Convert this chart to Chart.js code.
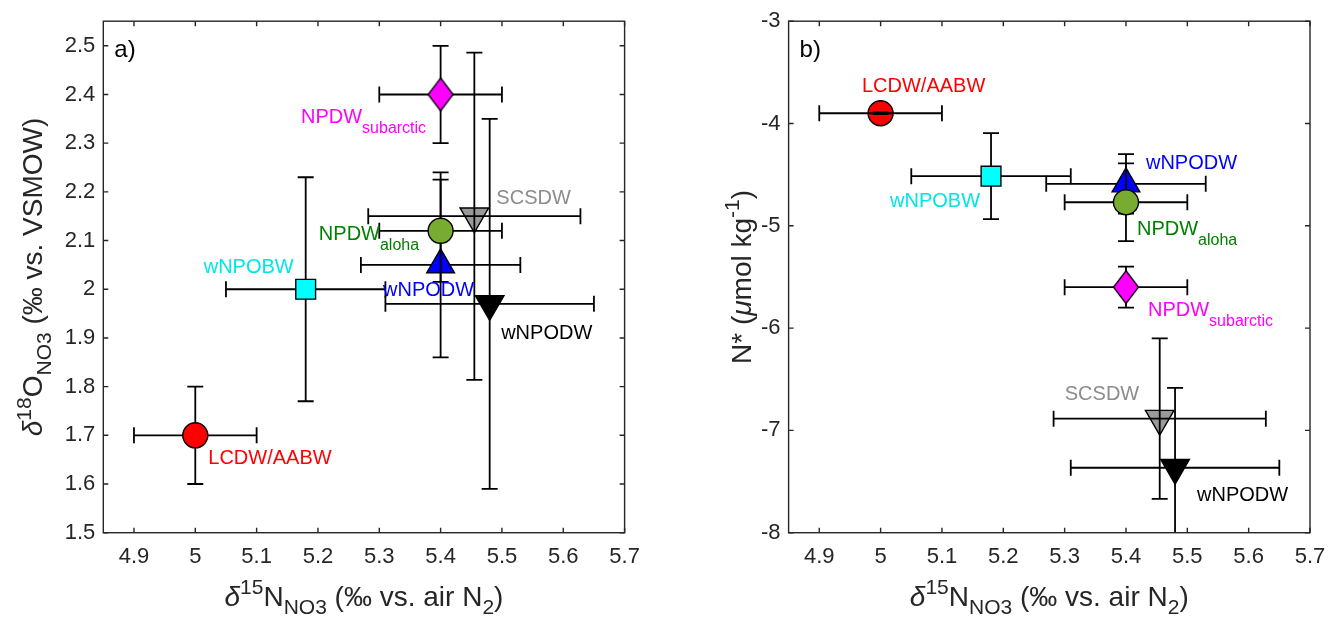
<!DOCTYPE html>
<html>
<head>
<meta charset="utf-8">
<script src="https://cdn.jsdelivr.net/npm/chart.js@4.4.0/dist/chart.umd.min.js"></script>
<style>
  html, body { margin: 0; padding: 0; background: #fff; }
  #wrap { position: relative; width: 1338px; height: 620px; }
  .panel { position: absolute; top: 0; width: 669px; height: 620px; }
</style>
</head>
<body>
<div id="wrap">
  <div class="panel" style="left:0"><canvas id="panelA" width="669" height="620"></canvas></div>
  <div class="panel" style="left:669px"><canvas id="panelB" width="669" height="620"></canvas></div>
</div>
<script>
// water masses, same order in every array below
const massNames = ['LCDW/AABW', 'wNPOBW', 'NPDW', 'NPDW', 'wNPODW', 'SCSDW', 'wNPODW'];
const massSubs  = ['', '', 'subarctic', 'aloha', '', '', ''];

// d15N of nitrate (x in both panels) and its error
const d15N    = [5.0, 5.18, 5.4, 5.4, 5.4, 5.455, 5.48];
const d15NErr = [0.1, 0.13, 0.1, 0.1, 0.13, 0.173, 0.17];

// panel a: d18O of nitrate
const d18O    = [1.7, 2.0, 2.4, 2.12, 2.05, 2.15, 1.97];
const d18OErr = [0.1, 0.23, 0.1, 0.105, 0.19, 0.336, 0.38];

// panel b: N*
const nStar    = [-3.9, -4.515, -5.6, -4.77, -4.59, -6.885, -7.365];
const nStarErr = [0.008, 0.42, 0.2, 0.38, 0.29, 0.785, 0.78];

// tick labels
const xTicks  = [4.9, 5, 5.1, 5.2, 5.3, 5.4, 5.5, 5.6, 5.7];
const yTicksA = [1.5, 1.6, 1.7, 1.8, 1.9, 2, 2.1, 2.2, 2.3, 2.4, 2.5];
const yTicksB = [-8, -7, -6, -5, -4, -3];

// ---- estilos ----
const FONT = '"Liberation Sans", Arial, sans-serif';
const AXIS = '#262626';
const fills = ['#ff0000', '#00ffff', '#ff00ff', '#77ac30', '#0000ff', '#999999', '#000000'];
const textColors = ['#ff0000', '#00e6e6', '#ff00ff', '#008000', '#0000ff', '#8c8c8c', '#000000'];

// diamond marker (taller than wide, like matlab 'd')
function diamond(fill) {
    const c = document.createElement('canvas');
    c.width = 28; c.height = 36;
    const g = c.getContext('2d');
    g.beginPath();
    g.moveTo(14, 1.5); g.lineTo(26.5, 18); g.lineTo(14, 34.5); g.lineTo(1.5, 18); g.closePath();
    g.fillStyle = fill; g.fill();
    g.lineWidth = 1.3; g.strokeStyle = '#000'; g.stroke();
    return c;
}

const markerStyle = [
    { pointStyle: 'circle', pointRadius: 12.5, pointRotation: 0 },
    { pointStyle: 'rect', pointRadius: 14, pointRotation: 0 },
    { pointStyle: diamond(fills[2]), pointRadius: 14, pointRotation: 0 },
    { pointStyle: 'circle', pointRadius: 12.5, pointRotation: 0 },
    { pointStyle: 'triangle', pointRadius: 16, pointRotation: 0 },
    { pointStyle: 'triangle', pointRadius: 16.5, pointRotation: 180 },
    { pointStyle: 'triangle', pointRadius: 16.5, pointRotation: 180 }
];

// rich text: segments [text, kind] with kind '', 'it', 'sub', 'sup'
function drawRich(ctx, segs, size) {
    const parts = segs.map(([t, k]) => {
        const s = (k === 'sub' || k === 'sup') ? size * 0.75 : size;
        const font = (k === 'it' ? 'italic ' : '') + s + 'px ' + FONT;
        ctx.font = font;
        const dy = k === 'sub' ? size * 0.3 : (k === 'sup' ? -size * 0.42 : 0);
        return { t, font, dy, w: ctx.measureText(t).width };
    });
    const total = parts.reduce((a, p) => a + p.w, 0);
    let x = -total / 2;
    ctx.textAlign = 'left';
    ctx.textBaseline = 'alphabetic';
    parts.forEach(p => { ctx.font = p.font; ctx.fillText(p.t, x, p.dy); x += p.w; });
}

// error bars, drawn under or over the marker of each dataset
function drawBars(chart, index) {
    const ds = chart.data.datasets[index];
    const xs = chart.scales.x, ys = chart.scales.y;
    const area = chart.chartArea;
    const ctx = chart.ctx;
    const cap = 8;
    ctx.save();
    ctx.beginPath();
    ctx.rect(area.left, area.top, area.right - area.left, area.bottom - area.top);
    ctx.clip();
    ctx.strokeStyle = '#000';
    ctx.lineWidth = 1.8;
    ds.data.forEach(p => {
        const px = xs.getPixelForValue(p.x), py = ys.getPixelForValue(p.y);
        const x0 = xs.getPixelForValue(p.x - p.xErr), x1 = xs.getPixelForValue(p.x + p.xErr);
        const y0 = ys.getPixelForValue(p.y - p.yErr), y1 = ys.getPixelForValue(p.y + p.yErr);
        ctx.beginPath();
        ctx.moveTo(x0, py); ctx.lineTo(x1, py);
        ctx.moveTo(x0, py - cap); ctx.lineTo(x0, py + cap);
        ctx.moveTo(x1, py - cap); ctx.lineTo(x1, py + cap);
        ctx.moveTo(px, y0); ctx.lineTo(px, y1);
        ctx.moveTo(px - cap, y0); ctx.lineTo(px + cap, y0);
        ctx.moveTo(px - cap, y1); ctx.lineTo(px + cap, y1);
        ctx.stroke();
    });
    ctx.restore();
}

const errorBars = {
    id: 'errorBars',
    beforeDatasetDraw(chart, args, opts) { if (!opts.over[args.index]) drawBars(chart, args.index); },
    afterDatasetDraw(chart, args, opts) { if (opts.over[args.index]) drawBars(chart, args.index); }
};

// box, inward ticks on the four sides, texts
const decor = {
    id: 'decor',
    afterDatasetsDraw(chart, args, opts) {
        const ctx = chart.ctx;
        const a = chart.chartArea;
        const xs = chart.scales.x, ys = chart.scales.y;
        const tl = 5;
        ctx.save();
        ctx.strokeStyle = AXIS;
        ctx.lineWidth = 1.4;
        ctx.strokeRect(a.left, a.top, a.right - a.left, a.bottom - a.top);
        ctx.beginPath();
        xTicks.forEach(v => {
            const x = xs.getPixelForValue(v);
            ctx.moveTo(x, a.bottom); ctx.lineTo(x, a.bottom - tl);
            ctx.moveTo(x, a.top); ctx.lineTo(x, a.top + tl);
        });
        opts.yTicks.forEach(v => {
            const y = ys.getPixelForValue(v);
            ctx.moveTo(a.left, y); ctx.lineTo(a.left + tl, y);
            ctx.moveTo(a.right, y); ctx.lineTo(a.right - tl, y);
        });
        ctx.stroke();

        // point labels
        opts.labels.forEach(l => {
            const ds = chart.data.datasets[l.i].data[0];
            const px = xs.getPixelForValue(ds.x) + l.dx;
            const py = ys.getPixelForValue(ds.y) + l.dy;
            ctx.fillStyle = textColors[l.i];
            ctx.textBaseline = 'middle';
            ctx.textAlign = 'left';
            ctx.font = '20px ' + FONT;
            const wMain = ctx.measureText(massNames[l.i]).width;
            ctx.font = '16px ' + FONT;
            const wSub = massSubs[l.i] ? ctx.measureText(massSubs[l.i]).width : 0;
            const w = wMain + wSub;
            let x0 = px;
            if (l.align === 'right') x0 = px - w;
            if (l.align === 'center') x0 = px - w / 2;
            ctx.font = '20px ' + FONT;
            ctx.fillText(massNames[l.i], x0, py);
            if (massSubs[l.i]) {
                ctx.font = '16px ' + FONT;
                ctx.fillText(massSubs[l.i], x0 + wMain, py + 11);
            }
        });

        // panel letter
        ctx.fillStyle = '#000';
        ctx.font = '24px ' + FONT;
        ctx.textAlign = 'left';
        ctx.textBaseline = 'middle';
        ctx.fillText(opts.letter, a.left + 11, a.top + 29);

        // axis titles
        ctx.fillStyle = AXIS;
        ctx.save();
        ctx.translate((a.left + a.right) / 2, a.bottom + 73);
        drawRich(ctx, opts.xTitle, 28);
        ctx.restore();
        ctx.save();
        ctx.translate(a.left + opts.yTitleOffset, (a.top + a.bottom) / 2);
        ctx.rotate(-Math.PI / 2);
        drawRich(ctx, opts.yTitle, 28);
        ctx.restore();
        ctx.restore();
    }
};

const xTitle = [['δ', 'it'], ['15', 'sup'], ['N', ''], ['NO3', 'sub'], [' (‰ vs. air N', ''], ['2', 'sub'], [')', '']];

function fmt(v) { return String(Math.round(v * 10) / 10); }

function makePanel(id, yVals, yErr, yTicks, yMin, yMax, cfg) {
    const datasets = massNames.map((name, i) => ({
        label: name + massSubs[i],
        data: [{ x: d15N[i], y: yVals[i], xErr: d15NErr[i], yErr: yErr[i] }],
        backgroundColor: fills[i],
        borderColor: '#000',
        borderWidth: 1.4,
        pointStyle: markerStyle[i].pointStyle,
        pointRadius: markerStyle[i].pointRadius,
        pointHoverRadius: markerStyle[i].pointRadius,
        pointRotation: markerStyle[i].pointRotation
    }));

    return new Chart(document.getElementById(id), {
        type: 'scatter',
        data: { datasets },
        plugins: [errorBars, decor],
        options: {
            responsive: false,
            animation: false,
            events: [],
            layout: { padding: { left: 0, top: 12.3, right: cfg.rightPad, bottom: 0 } },
            plugins: {
                legend: { display: false },
                tooltip: { enabled: false },
                errorBars: { over: cfg.barsOver },
                decor: {
                    yTicks: yTicks,
                    labels: cfg.labels,
                    letter: cfg.letter,
                    xTitle: xTitle,
                    yTitle: cfg.yTitle,
                    yTitleOffset: cfg.yTitleOffset
                }
            },
            scales: {
                x: {
                    type: 'linear',
                    min: 4.85,
                    max: 5.7,
                    afterBuildTicks: s => { s.ticks = xTicks.map(v => ({ value: v })); },
                    afterFit: s => { s.height = 87.3; },
                    grid: { display: false, drawTicks: false },
                    border: { display: false },
                    ticks: { padding: 11, color: AXIS, font: { family: FONT, size: 22 }, callback: v => fmt(v), maxRotation: 0, autoSkip: false }
                },
                y: {
                    type: 'linear',
                    min: yMin,
                    max: yMax,
                    afterBuildTicks: s => { s.ticks = yTicks.map(v => ({ value: v })); },
                    afterFit: s => { s.width = cfg.yWidth; },
                    grid: { display: false, drawTicks: false },
                    border: { display: false },
                    ticks: { padding: 8, color: AXIS, font: { family: FONT, size: 22 }, callback: v => fmt(v), autoSkip: false }
                }
            }
        }
    });
}

// ---- panel a ----
makePanel('panelA', d18O, d18OErr, yTicksA, 1.5, 2.5505, {
    yWidth: 103.3,
    rightPad: 44.4,
    letter: 'a)',
    barsOver: [false, false, false, false, false, true, false],
    yTitle: [['δ', 'it'], ['18', 'sup'], ['O', ''], ['NO3', 'sub'], [' (‰ vs. VSMOW)', '']],
    yTitleOffset: -61,
    labels: [
        { i: 0, dx: 13, dy: 23, align: 'left' },
        { i: 1, dx: -12, dy: -22, align: 'right' },
        { i: 2, dx: -14.5, dy: 23, align: 'right' },
        { i: 3, dx: -21.5, dy: 3.5, align: 'right' },
        { i: 4, dx: -12, dy: 26, align: 'center' },
        { i: 5, dx: 22, dy: -18, align: 'left' },
        { i: 6, dx: 11.5, dy: 30, align: 'left' }
    ]
});

// ---- panel b ----
makePanel('panelB', nStar, nStarErr, yTicksB, -8, -3, {
    yWidth: 119.6,
    rightPad: 28,
    letter: 'b)',
    barsOver: [true, false, false, false, false, true, false],
    yTitle: [['N* (', ''], ['μ', 'it'], ['mol kg', ''], ['-1', 'sup'], [')', '']],
    yTitleOffset: -37.6,
    labels: [
        { i: 0, dx: 43, dy: -27, align: 'center' },
        { i: 1, dx: -11, dy: 25, align: 'right' },
        { i: 2, dx: 22, dy: 23, align: 'left' },
        { i: 3, dx: 11, dy: 27.5, align: 'left' },
        { i: 4, dx: 20, dy: -20, align: 'left' },
        { i: 5, dx: -20.5, dy: -24, align: 'right' },
        { i: 6, dx: 22, dy: 28, align: 'left' }
    ]
});
</script>
</body>
</html>
